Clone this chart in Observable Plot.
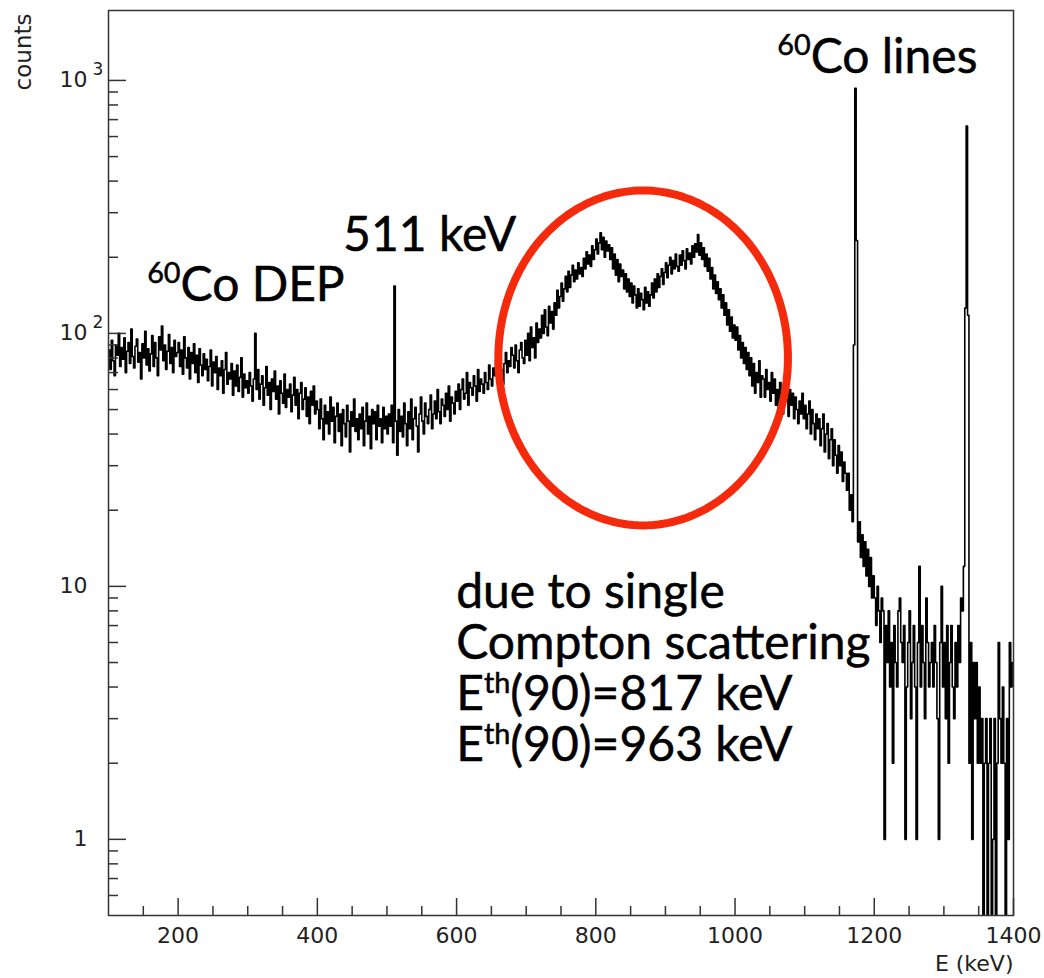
<!DOCTYPE html>
<html><head><meta charset="utf-8">
<script src="https://cdn.jsdelivr.net/npm/d3@7"></script>
<script src="https://cdn.jsdelivr.net/npm/@observablehq/plot@0.6"></script>
<style>html,body{margin:0;padding:0;background:#fff;}</style>
</head><body><div id="chart"></div>
<script>
// Histogram: 2 keV bins from 100 keV to 1400 keV (counts per bin)
const binStart = 100;
const binWidth = 2;
const counts = [
  // 100-200
  86, 72, 94, 78, 68, 90, 82, 100, 74, 88,
  79, 96, 70, 85, 92, 76, 104, 81, 73, 89,
  95, 77, 84, 66, 91, 80, 102, 75, 87, 71,
  83, 98, 74, 92, 80, 68, 97, 86, 107, 78,
  90, 72, 85, 99, 76, 88, 70, 94, 81, 84,
  // 200-300
  92, 74, 86, 69, 97, 80, 73, 88, 66, 84,
  76, 91, 70, 82, 64, 87, 75, 68, 83, 72,
  79, 65, 74, 86, 62, 77, 70, 81, 60, 73,
  68, 78, 58, 72, 84, 63, 70, 66, 76, 57,
  71, 62, 75, 59, 67, 80, 56, 69, 61, 65,
  // 300-400
  58, 70, 62, 54, 66, 100, 60, 72, 55, 63,
  68, 52, 61, 74, 57, 64, 50, 66, 59, 71,
  55, 62, 48, 65, 58, 53, 69, 51, 60, 56,
  63, 49, 57, 67, 52, 60, 46, 58, 64, 50,
  55, 61, 47, 56, 44, 59, 52, 62, 48, 54,
  // 400-500
  50, 42, 55, 46, 38, 52, 44, 49, 40, 56,
  45, 51, 37, 47, 53, 41, 48, 36, 50, 44,
  39, 52, 45, 34, 49, 43, 55, 41, 46, 38,
  48, 42, 51, 36, 45, 53, 40, 47, 35, 50,
  44, 49, 38, 52, 43, 46, 37, 51, 42, 47,
  // 500-600
  40, 48, 43, 52, 37, 154, 45, 33, 50, 41,
  47, 39, 53, 44, 36, 49, 42, 55, 38, 46,
  51, 43, 34, 48, 56, 45, 40, 53, 47, 44,
  50, 57, 42, 48, 54, 46, 60, 49, 44, 55,
  52, 47, 58, 50, 62, 45, 56, 53, 48, 59,
  // 600-700
  54, 63, 50, 60, 66, 55, 58, 70, 52, 64,
  61, 57, 68, 62, 54, 72, 59, 66, 63, 58,
  70, 64, 60, 75, 66, 62, 73, 68, 78, 64,
  67, 80, 72, 63, 76, 84, 70, 78, 74, 88,
  82, 73, 90, 78, 70, 86, 92, 80, 76, 94,
  // 700-800
  82, 100, 78, 106, 88, 96, 80, 110, 92, 104,
  96, 118, 100, 124, 106, 98, 128, 110, 122, 104,
  132, 118, 148, 126, 140, 158, 134, 150, 168, 146,
  176, 152, 170, 186, 160, 178, 164, 190, 172, 182,
  168, 198, 180, 210, 188, 204, 184, 222, 196, 214,
  // 800-900
  236, 206, 228, 250, 214, 240, 200, 232, 212, 224,
  196, 218, 180, 206, 170, 196, 160, 188, 168, 178,
  150, 172, 146, 164, 140, 158, 132, 154, 142, 126,
  150, 128, 144, 136, 124, 152, 132, 146, 128, 142,
  158, 138, 164, 146, 172, 152, 168, 180, 156, 174,
  // 900-1000
  190, 166, 186, 200, 172, 194, 180, 206, 184, 176,
  204, 186, 212, 194, 180, 216, 196, 208, 188, 222,
  200, 226, 210, 246, 204, 228, 196, 218, 184, 206,
  176, 198, 164, 182, 150, 170, 144, 160, 136, 150,
  126, 142, 118, 132, 108, 124, 102, 116, 96, 108,
  // 1000-1100
  94, 106, 86, 98, 80, 92, 76, 88, 72, 84,
  68, 80, 62, 76, 58, 70, 64, 78, 56, 68,
  66, 56, 72, 60, 64, 54, 70, 58, 66, 52,
  60, 50, 64, 56, 48, 62, 54, 58, 47, 60,
  52, 58, 46, 56, 50, 44, 54, 48, 58, 46,
  // 1100-1200
  52, 42, 48, 54, 40, 50, 44, 38, 48, 42,
  46, 36, 42, 48, 34, 40, 44, 32, 38, 42,
  30, 38, 33, 28, 36, 30, 34, 26, 31, 28,
  24, 28, 20, 23, 18, 90, 930, 233, 15, 18,
  13, 16, 12, 15, 11, 14, 10, 13, 9, 11,
  // 1200-1300
  9, 7, 10, 8, 6, 9, 8, 1, 7, 5,
  8, 4, 6, 2, 7, 5, 4, 8, 9, 6,
  5, 7, 1, 4, 6, 8, 3, 5, 7, 4,
  1, 6, 12, 4, 7, 5, 3, 9, 6, 4,
  5, 6, 4, 7, 5, 3, 1, 6, 10, 4,
  // 1300-1400
  6, 3, 7, 2, 5, 7, 4, 3, 6, 4,
  7, 5, 9, 8, 12, 126, 660, 118, 2, 6,
  1, 5, 3, 5, 2, 4, 2, 3, 0, 2,
  3, 0, 2, 3, 0, 1, 3, 0, 2, 6,
  3, 2, 4, 2, 0, 3, 1, 6, 4, 5
];

const xMajorTicks = [200, 400, 600, 800, 1000, 1200, 1400];
const xMinorTicks = [150, 250, 300, 350, 450, 500, 550, 650, 700, 750, 850, 900, 950, 1050, 1100, 1150, 1250, 1300, 1350];
const yMajorTicks = [1, 10, 100, 1000];
const yTickBase = ["1", "10", "10", "10"];
const yTickExp = ["", "", "2", "3"];
const yMinorTicks = [0.6, 0.7, 0.8, 0.9, 2, 3, 4, 5, 6, 7, 8, 9, 20, 30, 40, 50, 60, 70, 80, 90, 200, 300, 400, 500, 600, 700, 800, 900];

const xLabel = "E (keV)";
const yLabel = "counts";
const labelDEP = "^{60}Co DEP";
const label511 = "511 keV";
const labelLines = "^{60}Co lines";
const noteLines = ["due to single", "Compton scattering", "E^{th}(90)=817 keV", "E^{th}(90)=963 keV"];

// annotation anchors (data units: keV, counts); note anchored at its last baseline
const annoDEP = {x: 155.5, y: 134.6};
const anno511 = {x: 437, y: 212};
const annoLines = {x: 1060.6, y: 1074};
const annoNote = {x: 599.4, y: 2.035, lineHeight: 1.0625};
const ell = {cx: 868, cy: 80, rx: 208, ryDec: 0.662};

const bins = counts.map((c, i) => ({e: binStart + i * binWidth, c}));
bins.push({e: binStart + counts.length * binWidth, c: counts[counts.length - 1]});
const floorVal = 0.3;

const ellipse = d3.range(0, 181).map(k => {
  const t = 2 * Math.PI * k / 180;
  return {x: ell.cx + ell.rx * Math.cos(t), y: ell.cy * Math.pow(10, ell.ryDec * Math.sin(t))};
});

const annoFont = "Lato, 'Open Sans', sans-serif";
const annoStyle = {x: "x", y: "y", text: "t", textAnchor: "start", lineAnchor: "bottom", fontSize: 48, fontFamily: annoFont, fill: "black", stroke: "black", strokeWidth: 0.5};
const axisColor = "#333";
const expMap = new Map(yMajorTicks.map((d, i) => [d, yTickExp[i]]));
const baseMap = new Map(yMajorTicks.map((d, i) => [d, yTickBase[i]]));

const plot = Plot.plot({
  width: 1044, height: 978,
  marginLeft: 108, marginRight: 31, marginTop: 10, marginBottom: 63,
  style: {fontFamily: "'DejaVu Sans', sans-serif", fontSize: "22px", background: "white", color: "#222"},
  x: {type: "linear", domain: [100, 1400]},
  y: {type: "log", domain: [0.5, 1890]},
  marks: [
    Plot.line(bins, {x: "e", y: d => Math.max(d.c, floorVal), curve: "step-after", stroke: "black", strokeWidth: 1.6, clip: true}),
    Plot.line(ellipse, {x: "x", y: "y", stroke: "#f52a0c", strokeWidth: 8}),
    Plot.frame({stroke: axisColor, strokeWidth: 1.5}),
    Plot.axisX(xMajorTicks, {tickSize: 17, dy: -17, text: null, label: null, stroke: axisColor, strokeWidth: 1.5}),
    Plot.axisX(xMinorTicks, {tickSize: 9, dy: -9, text: null, label: null, stroke: axisColor, strokeWidth: 1.5}),
    Plot.axisX(xMajorTicks, {tickSize: 0, tickPadding: 12, label: null, tickFormat: d => String(d), fontSize: 22}),
    Plot.axisY(yMajorTicks, {tickSize: 18, dx: 18, text: null, label: null, stroke: axisColor, strokeWidth: 1.5}),
    Plot.axisY(yMinorTicks, {tickSize: 10, dx: 10, text: null, label: null, stroke: axisColor, strokeWidth: 1.5}),
    Plot.axisY(yMajorTicks, {tickSize: 0, tickPadding: 21, label: null, tickFormat: d => baseMap.get(d), fontSize: 22}),
    Plot.text(yMajorTicks.filter(d => expMap.get(d)), {y: d => d, text: d => expMap.get(d), frameAnchor: "left", dx: -16, dy: -11, textAnchor: "start", fontSize: 17}),
    Plot.text([yLabel], {frameAnchor: "top-left", text: d => d, rotate: -90, textAnchor: "end", lineAnchor: "middle", dx: -85, dy: 3, fontSize: 23}),
    Plot.text([xLabel], {frameAnchor: "bottom-right", text: d => d, textAnchor: "end", lineAnchor: "bottom", dy: 55, fontSize: 22}),
    Plot.text([{...annoDEP, t: labelDEP}], annoStyle),
    Plot.text([{...anno511, t: label511}], annoStyle),
    Plot.text([{...annoLines, t: labelLines}], annoStyle),
    Plot.text([{x: annoNote.x, y: annoNote.y, t: noteLines.join("\n")}], {...annoStyle, lineHeight: annoNote.lineHeight})
  ]
});

// render ^{...} as superscripts (on leaf text / tspan elements)
const NS = "http://www.w3.org/2000/svg";
plot.querySelectorAll("text, tspan").forEach(t => {
  if (t.children.length) return;
  const s = t.textContent;
  if (!s.includes("^{")) return;
  const holder = t.closest("[font-size]");
  const base = holder ? parseFloat(holder.getAttribute("font-size")) : 48;
  const supSize = base * 0.6, rise = base * 0.37;
  const parts = s.split(/\^\{([^}]*)\}/);
  t.textContent = "";
  let raised = false;
  parts.forEach((p, i) => {
    if (p === "") return;
    const ts = document.createElementNS(NS, "tspan");
    ts.textContent = p;
    if (i % 2 === 1) {
      ts.setAttribute("font-size", supSize);
      if (!raised) { ts.setAttribute("dy", -rise); raised = true; }
    } else if (raised) {
      ts.setAttribute("dy", rise); raised = false;
    }
    t.appendChild(ts);
  });
});

document.getElementById("chart").appendChild(plot);
</script>
</body></html>
